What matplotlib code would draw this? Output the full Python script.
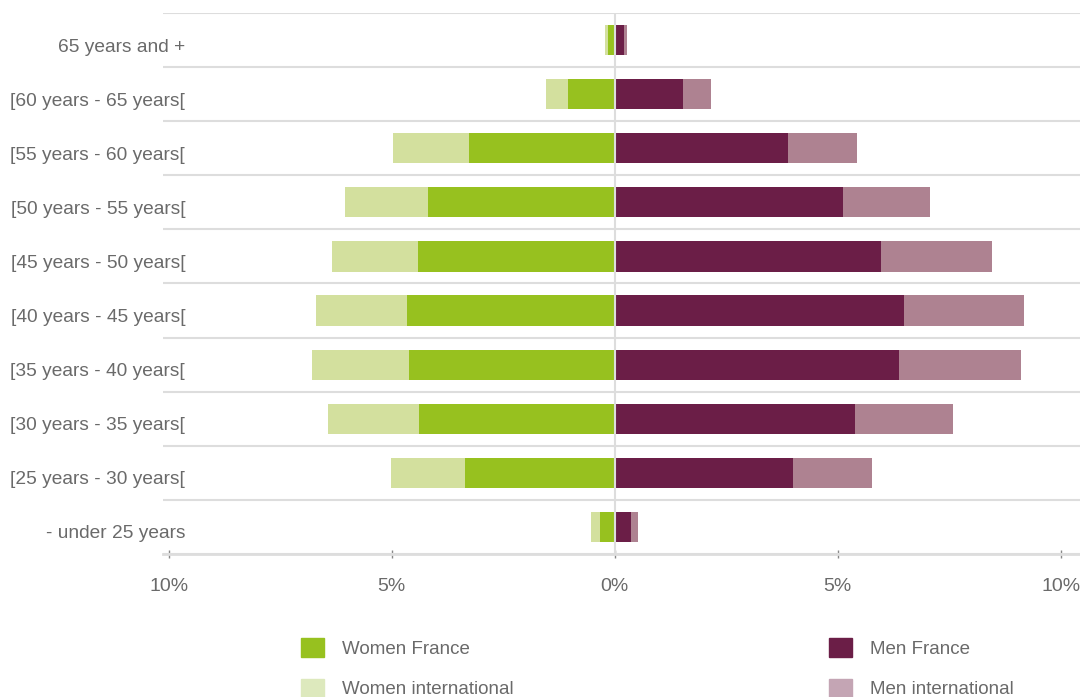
import numpy as np
import matplotlib.pyplot as plt
from matplotlib.patches import Patch
from matplotlib.transforms import ScaledTranslation

plt.rcParams['font.family'] = ['Liberation Sans', 'DejaVu Sans']

# age groups, bottom to top
ages = ['- under 25 years', '[25 years - 30 years[', '[30 years - 35 years[',
        '[35 years - 40 years[', '[40 years - 45 years[', '[45 years - 50 years[',
        '[50 years - 55 years[', '[55 years - 60 years[', '[60 years - 65 years[',
        '65 years and +']

# % of headcount
women_france = [0.34, 3.36, 4.39, 4.62, 4.66, 4.42, 4.19, 3.27, 1.05, 0.16]
women_intl = [0.20, 1.66, 2.05, 2.17, 2.04, 1.93, 1.86, 1.71, 0.50, 0.05]
men_france = [0.36, 3.99, 5.38, 6.37, 6.48, 5.96, 5.11, 3.88, 1.52, 0.20]
men_intl = [0.16, 1.77, 2.20, 2.73, 2.69, 2.49, 1.95, 1.55, 0.63, 0.07]

xticks = [-10, -5, 0, 5, 10]
xlabels = ['10%', '5%', '0%', '5%', '10%']

c_wf = '#97c11f'
c_wi = '#d3e09e'
c_mf = '#6b1e47'
c_mi = '#ae8291'
txt = '#6a6a6a'

fig = plt.figure(figsize=(10.8, 6.97), dpi=100)
ax = fig.add_axes([163/1080, 1-554/697, 1-163/1080, (554-13)/697])

y = np.arange(len(ages))
wf = np.array(women_france)
wi = np.array(women_intl)
mf = np.array(men_france)
mi = np.array(men_intl)
h = 0.56
ax.barh(y, -wf, height=h, color=c_wf, zorder=2)
ax.barh(y, -wi, left=-wf, height=h, color=c_wi, zorder=2)
ax.barh(y, mf, height=h, color=c_mf, zorder=2)
ax.barh(y, mi, left=mf, height=h, color=c_mi, zorder=2)
ax.axvline(0, color='#dddddd', lw=1.5, zorder=3)

ax.set_xlim(-10.13, 10.43)
ax.set_ylim(-0.5, len(ages) - 0.5)

ax.set_yticks(y)
ax.set_yticklabels(ages)
ax.set_yticks(np.arange(len(ages) + 1) - 0.5, minor=True)
ax.grid(axis='y', which='minor', color='#dddddd', lw=1.5, zorder=0)
ax.tick_params(axis='y', which='both', length=0, pad=-16, labelsize=13.8, labelcolor=txt)
shift = ScaledTranslation(0, -5/100, fig.dpi_scale_trans)
for lab in ax.get_yticklabels():
    lab.set_transform(lab.get_transform() + shift)

ax.set_xticks(xticks)
ax.set_xticklabels(xlabels)
ax.tick_params(axis='x', direction='inout', length=6, width=1, color='#888888',
               pad=14, labelsize=14, labelcolor=txt)

for s in ['top', 'right', 'left']:
    ax.spines[s].set_visible(False)
ax.spines['bottom'].set_color('#dddddd')
ax.spines['bottom'].set_linewidth(2)

leg_kw = dict(frameon=False, handlelength=1.2, handleheight=1.2, handletextpad=1.0,
              labelspacing=1.1, fontsize=13.5, labelcolor=txt, borderpad=0,
              borderaxespad=0)
fig.legend(handles=[Patch(color=c_wf, label='Women France'),
                    Patch(color='#dde9bd', label='Women international')],
           loc='upper left', bbox_to_anchor=(301/1080, 1-638/697), **leg_kw)
fig.legend(handles=[Patch(color=c_mf, label='Men France'),
                    Patch(color='#c4a5b4', label='Men international')],
           loc='upper left', bbox_to_anchor=(829/1080, 1-638/697), **leg_kw)

fig.savefig('out.png', dpi=100)
